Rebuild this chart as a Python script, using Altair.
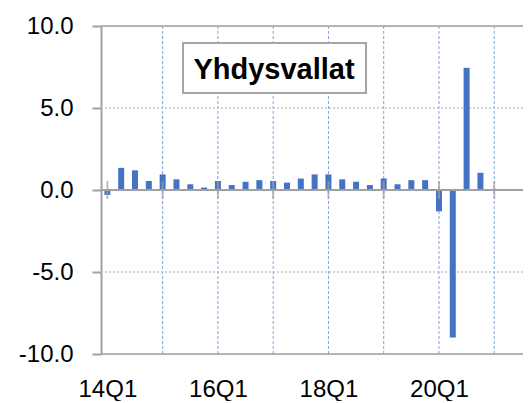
import altair as alt
import pandas as pd

quarters = ['14Q1', '14Q2', '14Q3', '14Q4', '15Q1', '15Q2', '15Q3', '15Q4',
            '16Q1', '16Q2', '16Q3', '16Q4', '17Q1', '17Q2', '17Q3', '17Q4',
            '18Q1', '18Q2', '18Q3', '18Q4', '19Q1', '19Q2', '19Q3', '19Q4',
            '20Q1', '20Q2', '20Q3', '20Q4']
values = [-0.3, 1.35, 1.2, 0.55, 0.95, 0.65, 0.35, 0.15,
          0.55, 0.3, 0.5, 0.6, 0.55, 0.45, 0.7, 0.95,
          0.95, 0.65, 0.5, 0.3, 0.7, 0.35, 0.6, 0.6,
          -1.3, -9.0, 7.45, 1.05]
y_ticks = [-10, -5, 0, 5, 10]
x_label_idx = [0, 8, 16, 24]
x_grid_idx = [4, 8, 12, 16, 20, 24, 28]
x_tick_idx = [0, 4, 8, 12, 16, 20, 24, 28]
title_text = 'Yhdysvallat'

FONT = 'Liberation Sans'
GRAY = '#a0a0a0'

df = pd.DataFrame({'i': list(range(len(quarters))), 'q': quarters, 'v': values})

xs = alt.Scale(domain=[-0.1, 29.72], nice=False, zero=False)
ys = alt.Scale(domain=[-10, 10], nice=False, zero=False)

names_js = '[' + ','.join("'%s'" % q for q in quarters) + ']'
x_axis = alt.Axis(values=x_label_idx, labelExpr=names_js + '[datum.value]',
                  domain=False, ticks=False, grid=False, title=None,
                  labelPadding=23, labelFontSize=24, labelFont=FONT,
                  labelColor='#000000', labelFlush=False, labelOverlap=False,
                  labelBound=False)
y_axis = alt.Axis(values=y_ticks,
                  labelExpr="(datum.value < 0 ? '-' : '') + format(abs(datum.value), '.1f')",
                  domain=True, domainColor=GRAY, domainWidth=2,
                  ticks=True, tickSize=9, tickColor=GRAY, tickWidth=2,
                  grid=False, title=None, labelPadding=19, labelFontSize=24,
                  labelFont=FONT, labelColor='#000000', labelFlush=False,
                  labelOverlap=False, labelBound=False)

X = lambda f: alt.X(f, type='quantitative', scale=xs, axis=x_axis)
Y = lambda f: alt.Y(f, type='quantitative', scale=ys, axis=y_axis)

vgrid = alt.Chart(pd.DataFrame({'i': x_grid_idx})).mark_rule(
    color='#7ea3dc', strokeWidth=1, strokeDash=[3, 2]).encode(x=X('i'))

hgrid = alt.Chart(pd.DataFrame({'v': [-5, 5]})).mark_rule(
    color='#c4c4c4', strokeWidth=1.5, strokeDash=[2, 2]).encode(y=Y('v'))

frame = alt.Chart(pd.DataFrame({'v': [-10, 10]})).mark_rule(
    color=GRAY, strokeWidth=1.5).encode(y=Y('v'))

bars = alt.Chart(df).mark_bar(size=6, color='#4472c4').encode(
    x=X('i'), y=Y('v'))

zero = alt.Chart(pd.DataFrame({'v': [0]})).mark_rule(
    color=GRAY, strokeWidth=2).encode(y=Y('v'))

zticks = alt.Chart(pd.DataFrame({'i': x_tick_idx, 'v': [0] * len(x_tick_idx)})).mark_tick(
    orient='vertical', size=18, thickness=2, color=GRAY).encode(x=X('i'), y=Y('v'))

tdf = pd.DataFrame({'t': [title_text]})
tbox = alt.Chart(tdf).mark_rect(fill='white', stroke='#a6a6a6', strokeWidth=2).encode(
    x=alt.value(82), x2=alt.value(265), y=alt.value(17), y2=alt.value(67))
ttext = alt.Chart(tdf).mark_text(font=FONT, fontSize=29, fontWeight='bold',
                                 color='#000000', align='center',
                                 baseline='alphabetic').encode(
    x=alt.value(173), y=alt.value(53), text='t:N')

chart = alt.layer(vgrid, hgrid, frame, bars, zero, zticks, tbox, ttext).properties(
    width=422, height=328,
    autosize=alt.AutoSizeParams(type='none'),
    padding={'left': 93, 'top': 18, 'right': 0, 'bottom': 47},
).configure_view(stroke=None).configure(background='white')

chart.save('out.html', embed_options={'renderer': 'svg', 'actions': False})
